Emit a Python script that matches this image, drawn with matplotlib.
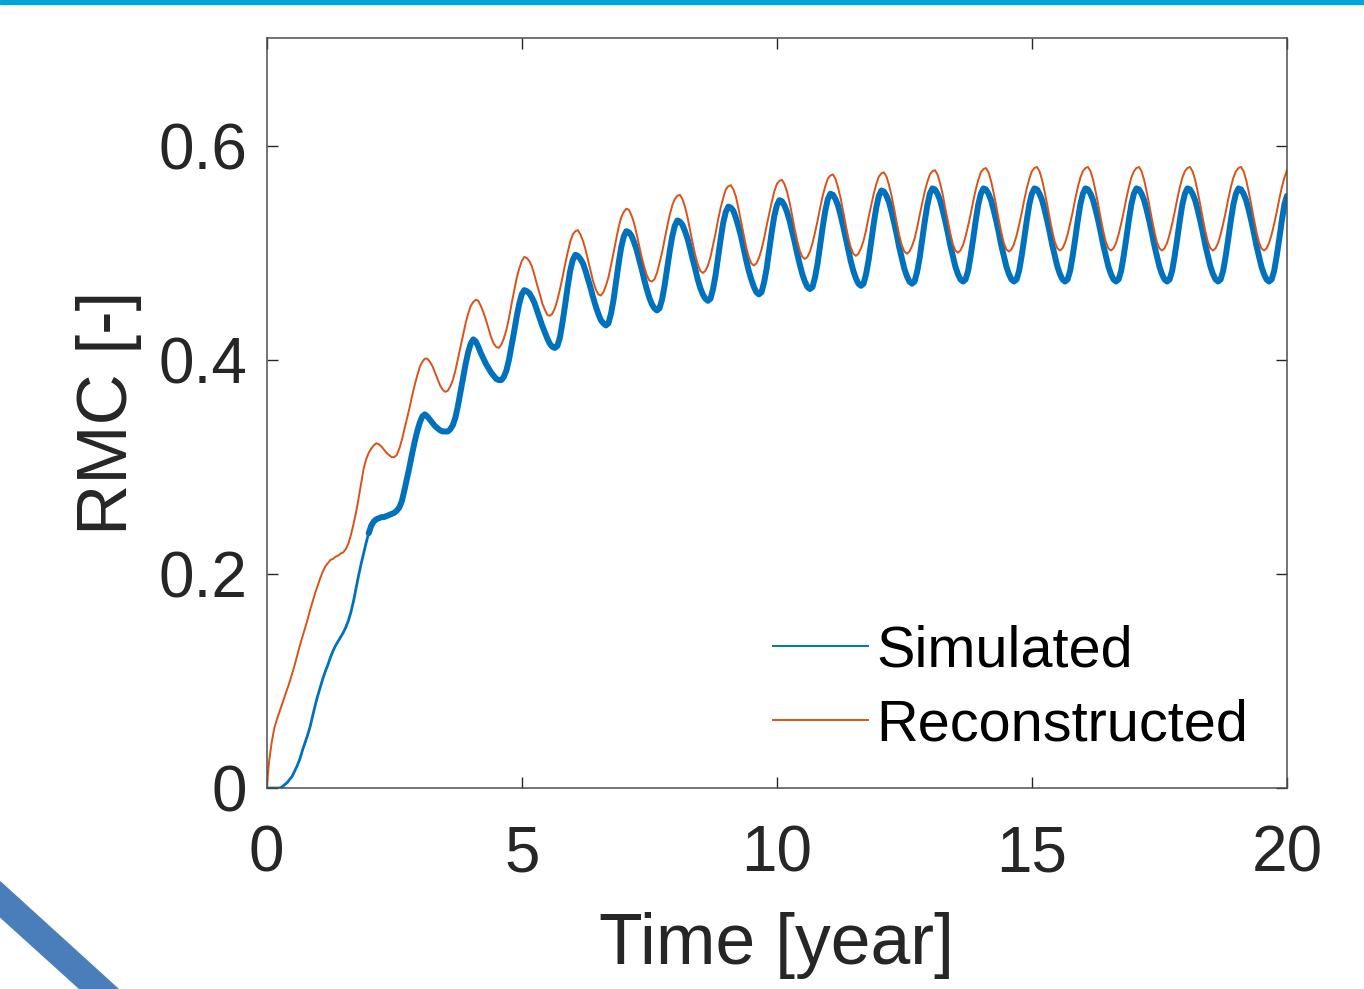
import numpy as np
import matplotlib
matplotlib.use('Agg')
import matplotlib.pyplot as plt
from matplotlib.lines import Line2D
from matplotlib.patches import Polygon, Rectangle

plt.rcParams['font.family'] = ['Liberation Sans', 'DejaVu Sans']

# time axis, one sample every 0.05 year (one row below = one year)
time_year = np.round(np.arange(0, 20.001, 0.05), 2)

# Reconstructed RMC
reconstructed = [
    0.000, 0.026, 0.043, 0.056, 0.064, 0.071, 0.078, 0.085, 0.092, 0.099, 0.107, 0.115, 0.124, 0.133, 0.141, 0.149, 0.157, 0.166, 0.174, 0.182,
    0.189, 0.196, 0.202, 0.207, 0.210, 0.213, 0.214, 0.216, 0.217, 0.219, 0.220, 0.223, 0.228, 0.236, 0.246, 0.257, 0.270, 0.284, 0.298, 0.307,
    0.313, 0.317, 0.320, 0.322, 0.321, 0.319, 0.316, 0.313, 0.311, 0.309, 0.309, 0.311, 0.317, 0.325, 0.335, 0.345, 0.355, 0.366, 0.376, 0.385,
    0.393, 0.398, 0.401, 0.401, 0.398, 0.394, 0.388, 0.382, 0.376, 0.372, 0.370, 0.371, 0.375, 0.381, 0.390, 0.401, 0.412, 0.423, 0.434, 0.443,
    0.450, 0.454, 0.456, 0.455, 0.450, 0.444, 0.437, 0.429, 0.421, 0.415, 0.412, 0.411, 0.414, 0.420, 0.428, 0.439, 0.452, 0.464, 0.476, 0.485,
    0.492, 0.496, 0.495, 0.492, 0.487, 0.479, 0.470, 0.462, 0.453, 0.447, 0.442, 0.441, 0.443, 0.448, 0.456, 0.466, 0.477, 0.489, 0.500, 0.510,
    0.517, 0.520, 0.521, 0.517, 0.511, 0.503, 0.493, 0.483, 0.473, 0.466, 0.461, 0.460, 0.463, 0.469, 0.477, 0.488, 0.500, 0.512, 0.524, 0.533,
    0.538, 0.541, 0.540, 0.535, 0.528, 0.518, 0.507, 0.496, 0.487, 0.479, 0.474, 0.473, 0.475, 0.481, 0.490, 0.500, 0.512, 0.524, 0.535, 0.544,
    0.550, 0.553, 0.554, 0.550, 0.543, 0.533, 0.521, 0.509, 0.498, 0.489, 0.483, 0.481, 0.483, 0.488, 0.496, 0.507, 0.518, 0.531, 0.542, 0.551,
    0.559, 0.562, 0.563, 0.559, 0.552, 0.541, 0.529, 0.517, 0.505, 0.496, 0.490, 0.488, 0.490, 0.495, 0.503, 0.513, 0.525, 0.536, 0.547, 0.557,
    0.564, 0.567, 0.568, 0.564, 0.557, 0.547, 0.535, 0.522, 0.511, 0.502, 0.496, 0.494, 0.496, 0.501, 0.509, 0.519, 0.530, 0.542, 0.553, 0.562,
    0.569, 0.572, 0.573, 0.569, 0.561, 0.551, 0.539, 0.526, 0.514, 0.505, 0.499, 0.497, 0.499, 0.504, 0.511, 0.521, 0.533, 0.544, 0.555, 0.564,
    0.571, 0.574, 0.575, 0.571, 0.563, 0.553, 0.541, 0.528, 0.516, 0.507, 0.501, 0.499, 0.501, 0.506, 0.513, 0.523, 0.535, 0.546, 0.557, 0.566,
    0.573, 0.576, 0.577, 0.573, 0.565, 0.555, 0.542, 0.530, 0.518, 0.508, 0.502, 0.500, 0.502, 0.507, 0.515, 0.525, 0.536, 0.548, 0.559, 0.568,
    0.575, 0.578, 0.579, 0.575, 0.567, 0.556, 0.544, 0.531, 0.519, 0.509, 0.503, 0.501, 0.503, 0.508, 0.516, 0.526, 0.537, 0.549, 0.560, 0.569,
    0.576, 0.579, 0.580, 0.576, 0.568, 0.557, 0.545, 0.532, 0.520, 0.510, 0.504, 0.502, 0.504, 0.509, 0.517, 0.527, 0.538, 0.550, 0.561, 0.570,
    0.576, 0.579, 0.580, 0.576, 0.568, 0.557, 0.545, 0.532, 0.520, 0.510, 0.504, 0.502, 0.504, 0.509, 0.517, 0.527, 0.538, 0.550, 0.561, 0.570,
    0.576, 0.579, 0.580, 0.576, 0.568, 0.557, 0.545, 0.532, 0.520, 0.510, 0.504, 0.502, 0.504, 0.509, 0.517, 0.527, 0.538, 0.550, 0.561, 0.570,
    0.576, 0.579, 0.580, 0.576, 0.568, 0.557, 0.545, 0.532, 0.520, 0.510, 0.504, 0.502, 0.504, 0.509, 0.517, 0.527, 0.538, 0.550, 0.561, 0.570,
    0.576, 0.579, 0.580, 0.576, 0.568, 0.557, 0.545, 0.532, 0.520, 0.510, 0.504, 0.502, 0.504, 0.509, 0.517, 0.527, 0.538, 0.550, 0.561, 0.570,
    0.577,
]

# Simulated RMC (centre of the noisy band)
simulated = [
    0.000, 0.000, 0.000, 0.000, 0.000, 0.000, 0.001, 0.003, 0.005, 0.008, 0.011, 0.016, 0.021, 0.027, 0.035, 0.042, 0.049, 0.057, 0.067, 0.077,
    0.086, 0.094, 0.102, 0.109, 0.115, 0.122, 0.128, 0.133, 0.137, 0.141, 0.145, 0.150, 0.156, 0.164, 0.174, 0.186, 0.198, 0.209, 0.219, 0.229,
    0.238, 0.245, 0.249, 0.251, 0.252, 0.253, 0.253, 0.254, 0.255, 0.256, 0.257, 0.259, 0.262, 0.268, 0.278, 0.289, 0.300, 0.312, 0.323, 0.333,
    0.341, 0.347, 0.349, 0.347, 0.344, 0.341, 0.338, 0.336, 0.334, 0.333, 0.333, 0.333, 0.335, 0.339, 0.346, 0.357, 0.370, 0.383, 0.396, 0.407,
    0.415, 0.419, 0.417, 0.412, 0.406, 0.401, 0.396, 0.392, 0.388, 0.385, 0.382, 0.381, 0.381, 0.384, 0.390, 0.400, 0.413, 0.426, 0.440, 0.452,
    0.461, 0.465, 0.464, 0.462, 0.458, 0.453, 0.446, 0.439, 0.432, 0.426, 0.420, 0.415, 0.412, 0.411, 0.413, 0.421, 0.435, 0.451, 0.468, 0.483,
    0.493, 0.498, 0.497, 0.494, 0.490, 0.483, 0.475, 0.467, 0.458, 0.450, 0.443, 0.437, 0.434, 0.432, 0.434, 0.443, 0.456, 0.473, 0.490, 0.505,
    0.515, 0.520, 0.519, 0.516, 0.510, 0.503, 0.494, 0.485, 0.475, 0.466, 0.458, 0.452, 0.448, 0.446, 0.448, 0.456, 0.469, 0.485, 0.501, 0.515,
    0.525, 0.530, 0.529, 0.526, 0.520, 0.513, 0.504, 0.494, 0.485, 0.475, 0.467, 0.461, 0.457, 0.455, 0.457, 0.466, 0.479, 0.496, 0.513, 0.528,
    0.538, 0.543, 0.542, 0.539, 0.532, 0.524, 0.515, 0.504, 0.493, 0.483, 0.475, 0.468, 0.463, 0.461, 0.463, 0.472, 0.485, 0.502, 0.519, 0.534,
    0.544, 0.549, 0.548, 0.544, 0.538, 0.530, 0.520, 0.510, 0.499, 0.489, 0.480, 0.473, 0.468, 0.466, 0.468, 0.477, 0.490, 0.507, 0.524, 0.539,
    0.550, 0.555, 0.554, 0.550, 0.544, 0.535, 0.525, 0.514, 0.503, 0.492, 0.483, 0.476, 0.471, 0.469, 0.471, 0.480, 0.493, 0.510, 0.527, 0.542,
    0.553, 0.558, 0.557, 0.553, 0.547, 0.538, 0.528, 0.517, 0.505, 0.495, 0.485, 0.478, 0.473, 0.471, 0.473, 0.482, 0.495, 0.512, 0.529, 0.544,
    0.555, 0.560, 0.559, 0.555, 0.549, 0.540, 0.530, 0.519, 0.507, 0.497, 0.487, 0.480, 0.475, 0.473, 0.475, 0.483, 0.497, 0.513, 0.530, 0.545,
    0.555, 0.560, 0.559, 0.555, 0.549, 0.540, 0.530, 0.519, 0.507, 0.497, 0.487, 0.480, 0.475, 0.473, 0.475, 0.483, 0.497, 0.513, 0.530, 0.545,
    0.555, 0.560, 0.559, 0.555, 0.549, 0.540, 0.530, 0.519, 0.507, 0.497, 0.487, 0.480, 0.475, 0.473, 0.475, 0.483, 0.497, 0.513, 0.530, 0.545,
    0.555, 0.560, 0.559, 0.555, 0.549, 0.540, 0.530, 0.519, 0.507, 0.497, 0.487, 0.480, 0.475, 0.473, 0.475, 0.483, 0.497, 0.513, 0.530, 0.545,
    0.555, 0.560, 0.559, 0.555, 0.549, 0.540, 0.530, 0.519, 0.507, 0.497, 0.487, 0.480, 0.475, 0.473, 0.475, 0.483, 0.497, 0.513, 0.530, 0.545,
    0.555, 0.560, 0.559, 0.555, 0.549, 0.540, 0.530, 0.519, 0.507, 0.497, 0.487, 0.480, 0.475, 0.473, 0.475, 0.483, 0.497, 0.513, 0.530, 0.545,
    0.555, 0.560, 0.559, 0.555, 0.549, 0.540, 0.530, 0.519, 0.507, 0.497, 0.487, 0.480, 0.475, 0.473, 0.475, 0.483, 0.497, 0.513, 0.530, 0.545,
    0.553,
]

x_ticks = [0, 5, 10, 15, 20]
y_ticks = [0, 0.2, 0.4, 0.6]
y_ticklabels = ['0', '0.2', '0.4', '0.6']

blue = '#0072BD'
orange = '#D95319'
axcol = '#262626'

fig = plt.figure(figsize=(13.64, 9.89), dpi=100)
ax = fig.add_axes([0.1955, 0.2032, 0.7480, 0.7579])

# simulated trace: thin at the start, noisy (thick band) once the cycles start
noisy = time_year >= 2.0
sim = np.array(simulated)
ax.plot(time_year, sim, color=blue, lw=2.0)
ax.plot(time_year[noisy], sim[noisy], color=blue, lw=4.3,
        solid_joinstyle='round', solid_capstyle='round')
ax.plot(time_year, reconstructed, color=orange, lw=1.4)

ax.set_xlim(0, 20)
ax.set_ylim(0, 0.7)
ax.set_xticks(x_ticks)
ax.set_yticks(y_ticks)
ax.set_yticklabels(y_ticklabels)
ax.tick_params(direction='in', length=8, width=1.0, colors=axcol,
               labelsize=46, top=True, right=True)
ax.tick_params(axis='x', pad=26)
ax.tick_params(axis='y', pad=14)
for s in ax.spines.values():
    s.set_color('#4d4d4d')
    s.set_linewidth(1.1)

ax.set_xlabel('Time [year]', fontsize=51.5, color=axcol, labelpad=20)
ax.set_ylabel('RMC [-]', fontsize=51, color=axcol, labelpad=12)

handles = [Line2D([], [], color=blue, lw=1.4), Line2D([], [], color=orange, lw=1.4)]
ax.legend(handles, ['Simulated', 'Reconstructed'], loc='upper left',
          bbox_to_anchor=(0.496, 0.218), frameon=False, fontsize=41.5,
          handlelength=1.65, handletextpad=0.15, labelspacing=0.34,
          borderpad=0, borderaxespad=0)

# slide decorations: cyan bar on top, blue stroke bottom left
W, H = 1364.0, 989.0
fig.patches.append(Rectangle((0, 1 - 4 / H), 1, 4 / H, transform=fig.transFigure,
                             color='#00A6D6', zorder=5))
stroke = [(0, 881.7), (118, 989), (80, 989), (0, 916.7)]
fig.patches.append(Polygon([(x / W, 1 - y / H) for x, y in stroke],
                           closed=True, transform=fig.transFigure,
                           color='#4A7EBB', zorder=5))

fig.savefig('out.png', dpi=100)
